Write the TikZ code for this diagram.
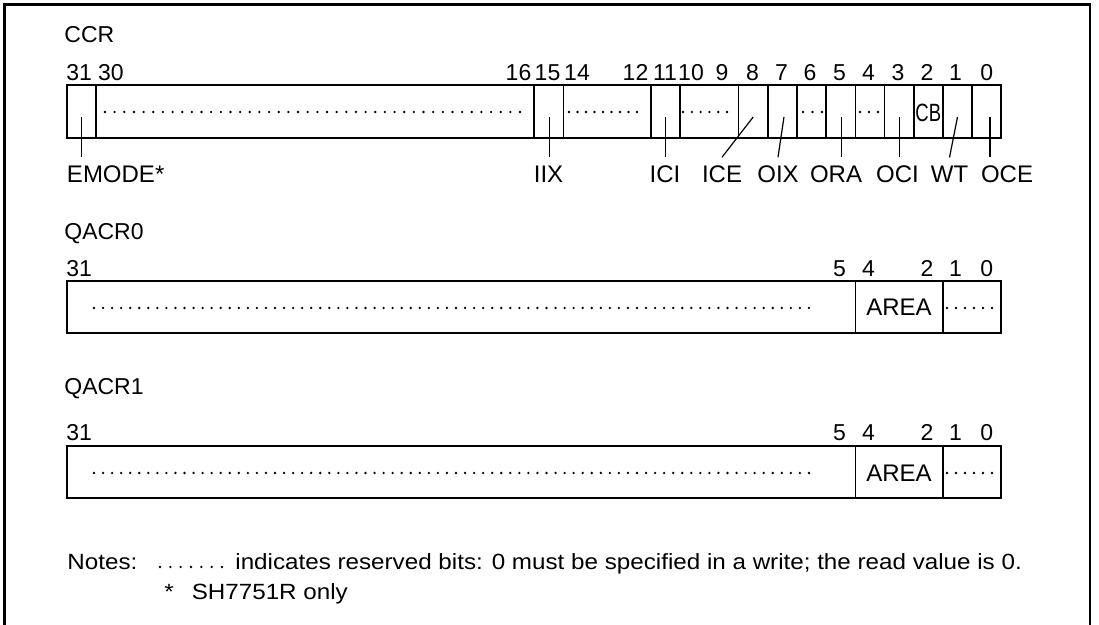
\documentclass[tikz,border=0pt]{standalone}
\usepackage{fontspec}
\setmainfont{Liberation Sans}
\newfontfamily\notefont[FakeStretch=1.1]{Liberation Sans}
\usepackage{tikz}

\tikzset{
  frameline/.style={line width=1.4pt},
  regbox/.style={line width=0.8pt},
  leader/.style={line width=0.6pt},
  resv/.style={line width=1.3pt, line cap=round, dash pattern=on 0pt off #1},
  bitno/.style={font=\fontsize{11.5}{13}\selectfont, inner sep=0pt, anchor=base},
  fldname/.style={font=\fontsize{12}{14}\selectfont, inner sep=0pt, outer sep=4.5pt, anchor=base},
  regname/.style={font=\fontsize{11.5}{14}\selectfont, inner sep=0pt, anchor=base west},
  notetext/.style={font=\notefont\fontsize{11}{13}\selectfont, inner sep=0pt, anchor=base west}
}

\begin{document}
\begin{tikzpicture}[x=0.5pt, y=-0.5pt]
\useasboundingbox (0,0) rectangle (1099,625);
\draw[frameline] (4.5,627) |- (1090,4.5) -- (1090,627);

% CCR
\node[regname] (ccr) at (64,43) {CCR};
\node[bitno, anchor=base west] (c31) at (66,81) {31};
\node[bitno] (c30) at (110.8,81) {30};
\node[bitno] (c16) at (518.5,81) {16};
\node[bitno] (c15) at (547.5,81) {15};
\node[bitno] (c14) at (577,81) {14};
\node[bitno] (c12) at (635.5,81) {12};
\node[bitno] (c11) at (665,81) {11};
\node[bitno] (c10) at (691,81) {10};
\node[bitno] (c9) at (722,81) {9};
\node[bitno] (c8) at (752.5,81) {8};
\node[bitno] (c7) at (781.5,81) {7};
\node[bitno] (c6) at (810,81) {6};
\node[bitno] (c5) at (839.5,81) {5};
\node[bitno] (c4) at (868.5,81) {4};
\node[bitno] (c3) at (898,81) {3};
\node[bitno] (c2) at (927,81) {2};
\node[bitno] (c1) at (955.5,81) {1};
\node[bitno] (c0) at (986.7,81) {0};

\draw[regbox] (67,85) rectangle (1001,138);
\foreach \x in {96.2,534.2,563.4,651.0,680.1,738.5,767.7,796.9,826.1,855.3,884.5,913.7,942.8,972.0}
  \draw[regbox] (\x,85) -- (\x,138);

\draw[resv=4.826pt] (105,112) -- (520.5,112);
\draw[resv=4.25pt] (569,112) -- (637.3,112);
\draw[resv=4.4pt] (683,112) -- (727.3,112);
\draw[resv=4.75pt] (803,112) -- (822.3,112);
\draw[resv=4.5pt] (860,112) -- (878.3,112);
\node[inner sep=0pt, font=\fontsize{12.5}{14}\selectfont] (cb) at (928.3,113) {\scalebox{0.74}[1]{CB}};

\coordinate (b31) at (81.6,117);
\coordinate (b15) at (549.5,117);
\coordinate (b11) at (665.6,117);
\coordinate (b8) at (753.2,117);
\coordinate (b7) at (784,117);
\coordinate (b5) at (841.5,117);
\coordinate (b3) at (899.1,117);
\coordinate (b1) at (957.5,117);
\coordinate (b0) at (990,117);

\node[fldname, anchor=base west] (emode) at (58,183) {EMODE*};
\node[fldname] (iix) at (548.5,183) {IIX};
\node[fldname] (ici) at (665,183) {ICI};
\node[fldname] (ice) at (722,183) {ICE};
\node[fldname] (oix) at (778,183) {OIX};
\node[fldname] (ora) at (836,183) {ORA};
\node[fldname] (oci) at (897.5,183) {OCI};
\node[fldname] (wt) at (949.5,183) {WT};
\node[fldname] (oce) at (1007,183) {OCE};

\draw[leader] (b31) -- (b31 |- emode.north);
\draw[leader] (b15) -- (b15 |- iix.north);
\draw[leader] (b11) -- (b11 |- ici.north);
\draw[leader] (b8) -- (ice.north);
\draw[leader] (b7) -- (oix.north);
\draw[leader] (b5) -- (b5 |- ora.north);
\draw[leader] (b3) -- (b3 |- oci.north);
\draw[leader] (b1) -- (wt.north);
\draw[leader] (b0) -- (b0 |- oce.north);

% QACR0
\node[regname] (qacra) at (64,240) {QACR0};
\node[bitno, anchor=base west] (qa31) at (66,277) {31};
\node[bitno] (qa5) at (839.5,277) {5};
\node[bitno] (qa4) at (868.5,277) {4};
\node[bitno] (qa2) at (927,277) {2};
\node[bitno] (qa1) at (955.5,277) {1};
\node[bitno] (qa0) at (986.7,277) {0};
\draw[regbox] (67,281) rectangle (1001,333);
\draw[regbox] (855.3,281) -- (855.3,333) (942.8,281) -- (942.8,333);
\draw[resv=4.525pt] (94,308) -- (809.3,308);
\draw[resv=4.5pt] (947,308) -- (992.3,308);
\node[inner sep=0pt, font=\fontsize{12}{14}\selectfont] (areaa) at (899,307.5) {AREA};

% QACR1
\node[regname] (qacrb) at (64,395) {QACR1};
\node[bitno, anchor=base west] (qb31) at (66,441) {31};
\node[bitno] (qb5) at (839.5,441) {5};
\node[bitno] (qb4) at (868.5,441) {4};
\node[bitno] (qb2) at (927,441) {2};
\node[bitno] (qb1) at (955.5,441) {1};
\node[bitno] (qb0) at (986.7,441) {0};
\draw[regbox] (67,446) rectangle (1001,498);
\draw[regbox] (855.3,446) -- (855.3,498) (942.8,446) -- (942.8,498);
\draw[resv=4.525pt] (94,473) -- (809.3,473);
\draw[resv=4.5pt] (947,473) -- (992.3,473);
\node[inner sep=0pt, font=\fontsize{12}{14}\selectfont] (areab) at (899,473) {AREA};

% notes
\node[notetext] (notes) at (67,570) {Notes:};
\draw[resv=5.17pt] (160,567) -- (222.3,567);
\node[notetext] (notedesc) at (235,570) {indicates reserved bits: 0 must be specified in a write; the read value is 0.};
\node[notetext] (notestar) at (164,600) {*\hspace{9pt}SH7751R only};
\end{tikzpicture}
\end{document}
